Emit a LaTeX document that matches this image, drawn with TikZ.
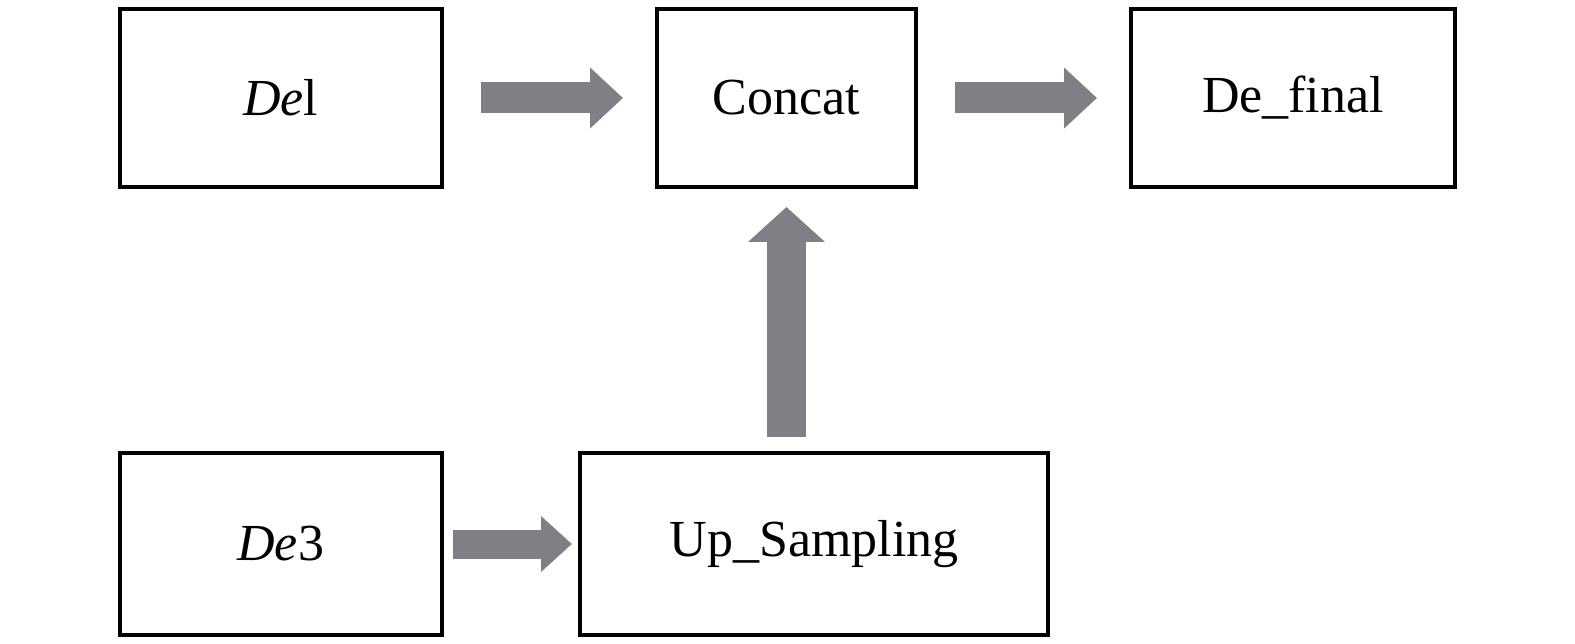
\documentclass[tikz,border=0pt]{standalone}
\usepackage{fontspec}
\setmainfont{Liberation Serif}
\usetikzlibrary{arrows.meta}
\definecolor{arrowgray}{RGB}{126,128,134}

\begin{document}
\begin{tikzpicture}[x=1pt,y=-1pt]
    \tikzstyle{block}=[rectangle,draw=black,line width=4pt,fill=white,inner sep=0pt,minimum height=178pt,font=\fontsize{52}{60}\selectfont]
    \tikzstyle{fat}=[draw=arrowgray,-{Triangle[length=33pt,width=59pt]},line width=31pt]
    \useasboundingbox (0,0) rectangle (1575,644);

    \node[block,minimum width=322.5pt] (De1) at (280.75,98) {\textit{De}l};
    \node[block,minimum width=259pt] (Concat) at (786.5,98) {Concat};
    \node[block,minimum width=324pt] (Final) at (1293,98) {De\_final};
    \node[block,minimum width=322.5pt,minimum height=182pt] (De3) at (280.75,544) {\textit{De}3};
    \node[block,minimum width=468pt,minimum height=182pt] (Up) at (814,544) {Up\_Sampling};

        \foreach \from/\to in {De1/Concat, Concat/Final}
            \draw[fat,shorten <=37pt,shorten >=32pt] (\from) -- (\to);

        \draw[fat,line width=29pt,-{Triangle[length=31pt,width=54pt]},shorten <=9pt,shorten >=6pt] (De3) -- (Up);
        \draw[fat,line width=39pt,-{Triangle[length=35pt,width=75pt]},shorten <=14pt,shorten >=18pt] (Concat.south |- Up.north) -- (Concat.south);
\end{tikzpicture}
\end{document}
